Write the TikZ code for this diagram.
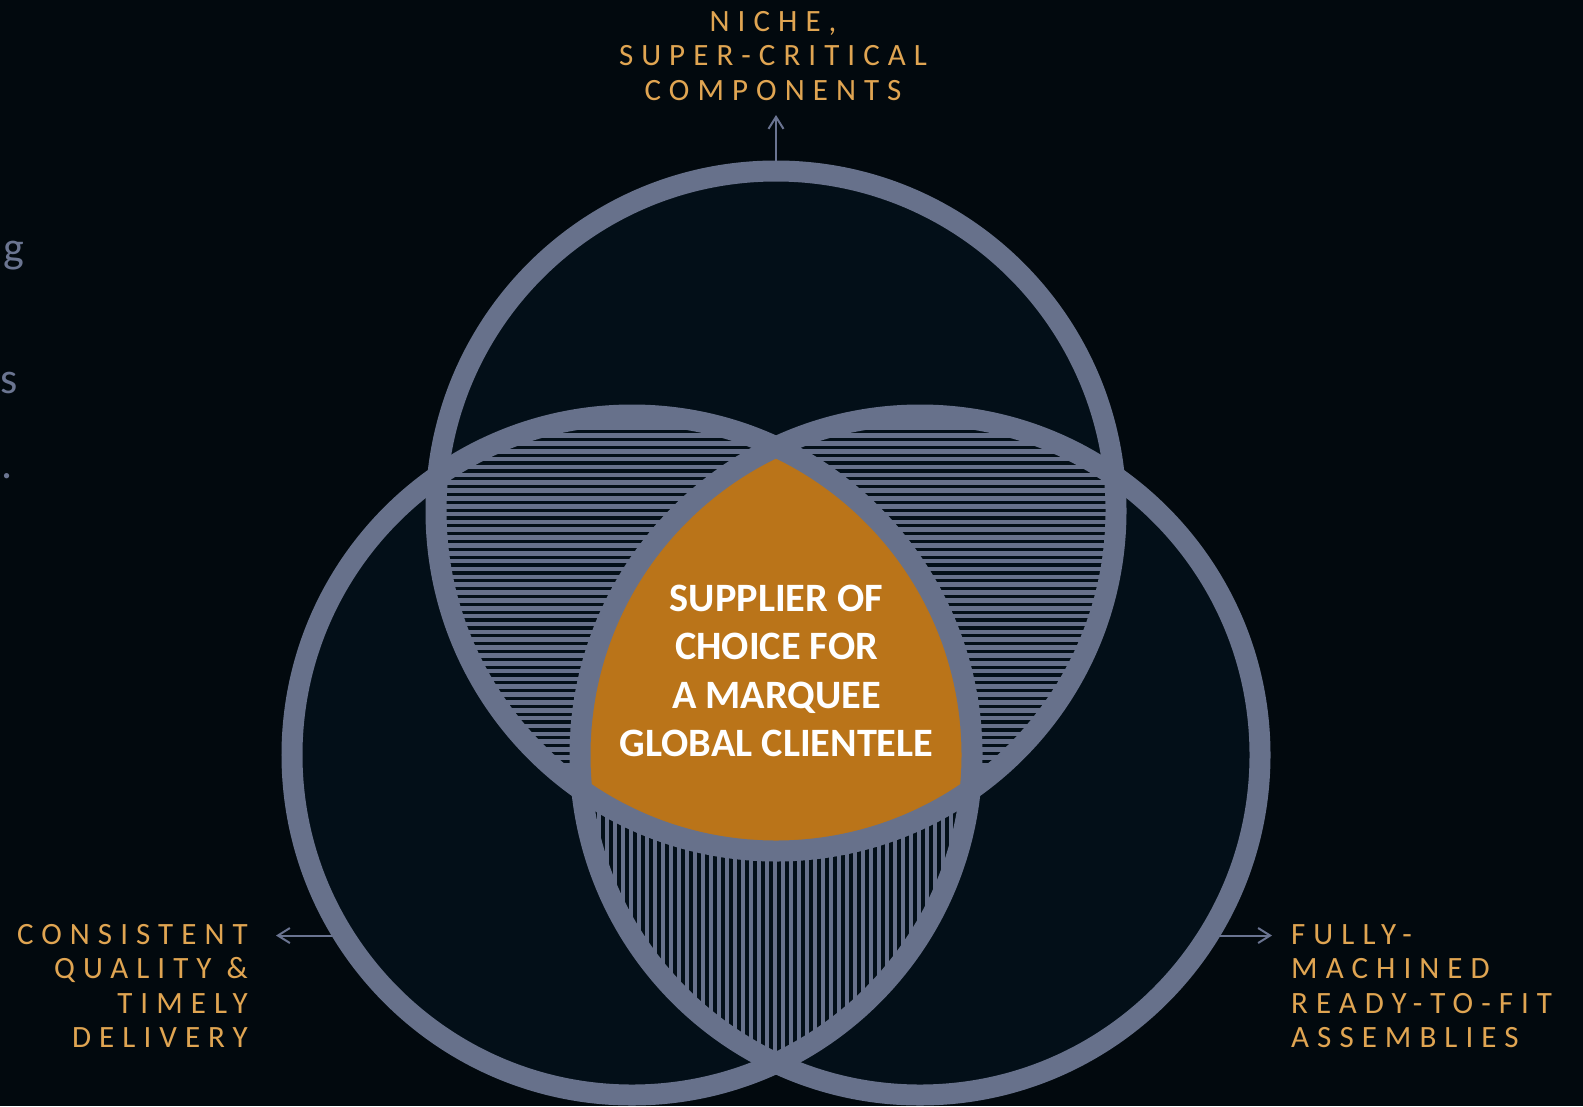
\documentclass[tikz,border=0pt]{standalone}
\usepackage{fontspec}
\setmainfont{Carlito}
\newfontfamily\spacedfont[LetterSpace=26]{Carlito}
\usetikzlibrary{arrows.meta}
\definecolor{bgc}{HTML}{02090E}
\definecolor{insidec}{HTML}{030F18}
\definecolor{ringc}{HTML}{67718B}
\definecolor{arrowc}{HTML}{6A7491}
\definecolor{orangec}{HTML}{BA7419}
\definecolor{goldc}{HTML}{E0A552}
\definecolor{ghostc}{HTML}{6B7591}
\begin{document}
\begin{tikzpicture}[x=1bp,y=-1bp,
  ring/.style={circle, draw=ringc, line width=21bp, minimum size=680bp, inner sep=0pt, outer sep=10.5bp},
  hatchline/.style={draw=ringc, line width=4.6bp},
  conn/.style={draw=arrowc, line width=2bp, -{Straight Barb[length=12bp,width=15bp]}},
  goldlabel/.style={text=goldc, font=\spacedfont\fontsize{31bp}{34.5bp}\selectfont, inner sep=0pt},
  core/.style={text=white, font=\bfseries\fontsize{40.3bp}{48.3bp}\selectfont, align=center, inner sep=0pt},
  ghosttext/.style={text=ghostc, font=\fontsize{44bp}{50bp}\selectfont, inner sep=0pt, anchor=base west}]
\useasboundingbox (0,0) rectangle (1583,1106);
\fill[bgc] (0,0) rectangle (1583,1106);
\coordinate (ptop) at (776,511);
\coordinate (pleft) at (632,755);
\coordinate (pright) at (920,755);
\foreach \c in {ptop,pleft,pright} \fill[insidec] (\c) circle[radius=340];
% horizontal hatching: top circle with left or right circle
\begin{scope}
  \clip (ptop) circle[radius=340];
  \clip (pleft) circle[radius=340] (pright) circle[radius=340];
  \foreach \k in {0,...,52} \draw[hatchline] (400,{412+7.85*\k}) -- (1150,{412+7.85*\k});
\end{scope}
% vertical hatching: left with right circle
\begin{scope}
  \clip (pleft) circle[radius=340];
  \clip (pright) circle[radius=340];
  \foreach \k in {-26,...,26} \draw[hatchline] ({775+8*\k},400) -- ({775+8*\k},1100);
\end{scope}
% centre
\begin{scope}
  \clip (ptop) circle[radius=340];
  \clip (pleft) circle[radius=340];
  \fill[orangec] (pright) circle[radius=340];
\end{scope}
\node[ring] (ctop) at (ptop) {};
\node[ring] (cleft) at (pleft) {};
\node[ring] (cright) at (pright) {};
% arrows
\coordinate (tiptop) at (776,115);
\coordinate (tipleft) at (276,935);
\coordinate (tipright) at (1272,935);
\draw[conn] (ctop.north) -- (tiptop);
\draw[conn] (cleft.211) -- (cleft.211 -| tipleft);
\draw[conn] (cright.-31) -- (cright.-31 -| tipright);
% texts
\node[goldlabel, align=center, anchor=north] (niche) at (773,11) {NICHE,\\SUPER-CRITICAL\\COMPONENTS};
\node[goldlabel, align=right, anchor=north east] (quality) at (248,924) {CONSISTENT\\QUALITY \&\\TIMELY\\DELIVERY};
\node[goldlabel, align=left, anchor=north west] (machined) at (1291,924) {FULLY-\\MACHINED\\READY-TO-FIT\\ASSEMBLIES};
\node[core, anchor=north] (corelabel) at (776.5,585) {SUPPLIER OF\\CHOICE FOR\\A MARQUEE\\GLOBAL CLIENTELE};
% cut-off text at the left edge
\node[ghosttext] (ghostg) at (3,262.5) {g};
\node[ghosttext] (ghosts) at (0,393) {s};
\node[ghosttext] (ghostdot) at (1,478) {.};
\end{tikzpicture}
\end{document}
